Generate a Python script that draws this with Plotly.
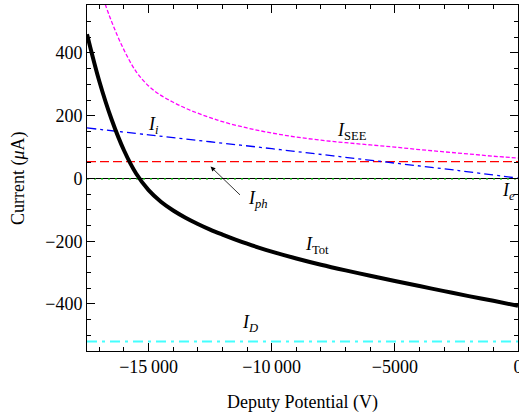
import plotly.graph_objects as go

# ---- data ----
V_tot = [-17500, -17000, -16500, -16000, -15500, -15000, -14500, -14000, -13500, -13000,
         -12500, -12000, -11500, -11000, -10500, -10000, -9000, -8000, -7000, -6000,
         -5000, -4000, -3000, -2000, -1000, 0]
I_tot = [460, 310, 188, 90, 15, -37, -74, -102, -125, -145,
         -163, -179, -194, -208, -221, -233, -255, -275, -293, -310,
         -327, -343, -359, -375, -390, -406]

V_see = [-17000, -16500, -16000, -15500, -15000, -14500, -14000, -13500, -13000, -12500,
         -12000, -11000, -10000, -9000, -8000, -7000, -6000, -5000, -4000, -3000,
         -2000, -1000, 0]
I_see = [610, 500, 410, 340, 295, 265, 243, 224, 208, 194,
         181, 161, 145, 132, 122, 114, 107, 100, 92, 85,
         78, 71, 65]

V_i = [-17500, -15000, -12500, -10000, -7500, -5000, -2500, 0]
I_i = [161, 139, 117, 95, 72, 49, 26, 1]

V_flat = [-17500, 0]
I_ph = [54, 54]
I_e = [-1, -1]
I_D = [-520, -520]

x_range = [-17500, 0]
y_range = [-550, 553]
x_tickvals = [-15000, -10000, -5000, 0]
x_ticktext = ["\u221215\u2009000", "\u221210\u2009000", "\u22125000", "0"]
y_tickvals = [-400, -200, 0, 200, 400]
y_ticktext = ["\u2212400", "\u2212200", "0", "200", "400"]

FONT = "Liberation Serif"

fig = go.Figure()
fig.add_trace(go.Scatter(x=V_flat, y=I_e, mode="lines",
                         line=dict(color="#00a000", width=1.5, dash="2px,5px")))
fig.add_trace(go.Scatter(x=V_flat, y=I_D, mode="lines",
                         line=dict(color="#44ffff", width=2, dash="10px,5px,3px,5px")))
fig.add_trace(go.Scatter(x=V_flat, y=I_ph, mode="lines",
                         line=dict(color="#ff0000", width=1.3, dash="9px,4px")))
fig.add_trace(go.Scatter(x=V_i, y=I_i, mode="lines", line_shape="spline",
                         line=dict(color="#0000ff", width=1.3, dash="9px,4px,3px,4px")))
fig.add_trace(go.Scatter(x=V_see, y=I_see, mode="lines", line_shape="spline",
                         line=dict(color="#ff00ff", width=1.3, dash="4px,2px")))
fig.add_trace(go.Scatter(x=V_tot, y=I_tot, mode="lines", line_shape="spline",
                         line=dict(color="black", width=4)))

lab = dict(showarrow=False, font=dict(family=FONT, size=18, color="black"),
           xref="x", yref="y")
fig.add_annotation(x=-14800, y=168, text="<i>I</i><sub><i>i</i></sub>", **lab)
fig.add_annotation(x=-6750, y=149, text="<i>I</i><sub>SEE</sub>", **lab)
fig.add_annotation(x=-10550, y=-68, text="<i>I</i><sub><i>ph</i></sub>", **lab)
fig.add_annotation(x=-400, y=-42, text="<i>I</i><sub><i>e</i></sub>", **lab)
fig.add_annotation(x=-8150, y=-215, text="<i>I</i><sub>Tot</sub>", **lab)
fig.add_annotation(x=-10900, y=-462, text="<i>I</i><sub><i>D</i></sub>", **lab)
fig.add_annotation(x=-12484, y=38, ax=-11227, ay=-57, axref="x", ayref="y",
                   xref="x", yref="y", text="", showarrow=True,
                   arrowhead=2, arrowsize=1.2, arrowwidth=0.8, arrowcolor="black")

# axis titles
fig.add_annotation(x=0.5, y=-0.148, xref="paper", yref="paper", showarrow=False,
                   text="Deputy Potential (V)", xanchor="center", yanchor="middle",
                   font=dict(family=FONT, size=18, color="black"))
fig.add_annotation(x=-0.16, y=0.5, xref="paper", yref="paper", showarrow=False,
                   text="Current (<i>μ</i>A)", textangle=-90,
                   xanchor="center", yanchor="middle",
                   font=dict(family=FONT, size=18, color="black"))

axis_common = dict(showgrid=False, showline=True, linecolor="black", linewidth=1,
                   mirror="allticks", ticks="inside", tickcolor="black",
                   automargin=False, ticklabeloverflow="allow",
                   tickfont=dict(family=FONT, size=18, color="black"))

fig.update_layout(
    width=519, height=420,
    margin=dict(l=87, r=1, t=5, b=69),
    paper_bgcolor="white", plot_bgcolor="white",
    showlegend=False,
    font=dict(family=FONT, size=18, color="black"),
    xaxis=dict(range=x_range, tickmode="array", tickvals=x_tickvals, ticktext=x_ticktext,
               ticklen=8, ticklabelstandoff=-1,
               minor=dict(dtick=1000, tick0=0, ticklen=4, ticks="inside", tickcolor="black"),
               zeroline=False, **axis_common),
    yaxis=dict(range=y_range, tickmode="array", tickvals=y_tickvals, ticktext=y_ticktext,
               ticklen=8, ticklabelstandoff=0,
               minor=dict(dtick=50, tick0=0, ticklen=4, ticks="inside", tickcolor="black"),
               zeroline=True, zerolinecolor="black", zerolinewidth=1,
               **axis_common),
)

fig.write_html("out.html", config={"displayModeBar": False},
               post_script="document.body.style.margin='0';document.body.style.overflow='hidden';")
